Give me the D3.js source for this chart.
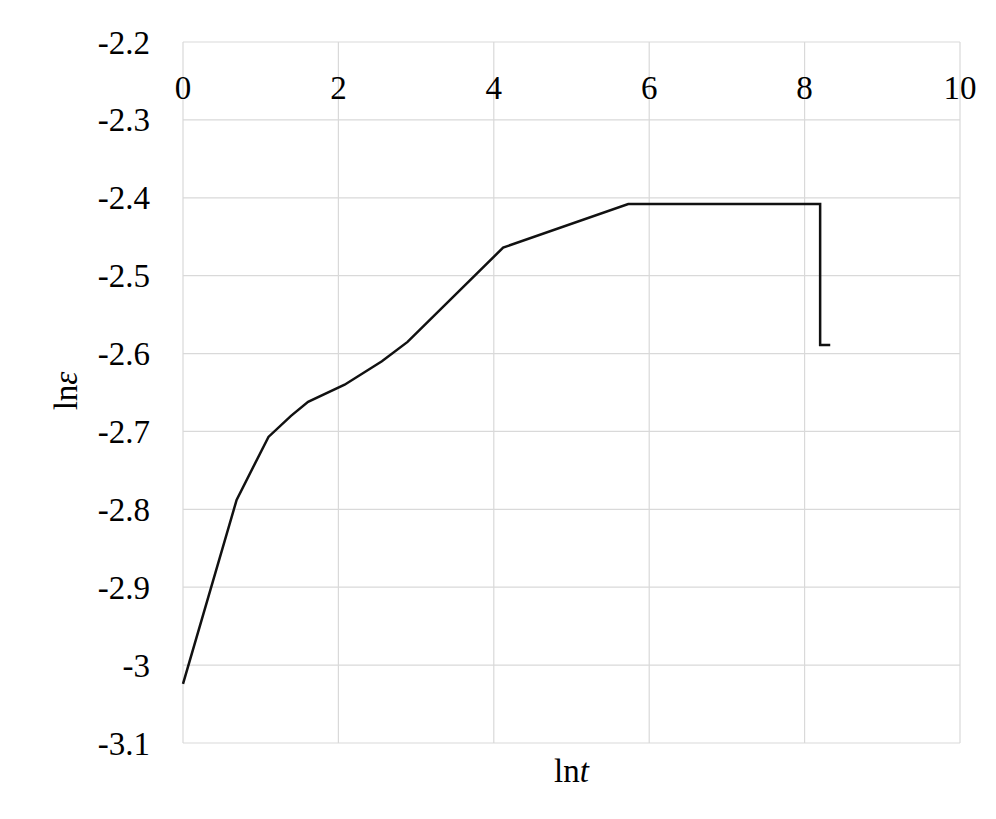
<!DOCTYPE html>
<html>
<head>
<meta charset="utf-8">
<script src="https://cdn.jsdelivr.net/npm/d3@7"></script>
<style>
  html, body { margin: 0; padding: 0; background: #fff; }
  text { font-family: "Liberation Serif", "Times New Roman", serif; fill: #000; }
</style>
</head>
<body>
<div id="chart"></div>
<script>
// ln t values and matching ln epsilon values
const lnT   = [0, 0.69, 1.10, 1.39, 1.61, 2.08, 2.56, 2.89, 4.12, 5.73, 8.20, 8.20, 8.33];
const lnEps = [-3.024, -2.788, -2.707, -2.680, -2.662, -2.640, -2.610, -2.585, -2.464, -2.408, -2.408, -2.589, -2.589];

const xTicks = [0, 2, 4, 6, 8, 10];
const yTicks = [-2.2, -2.3, -2.4, -2.5, -2.6, -2.7, -2.8, -2.9, -3, -3.1];

// set the dimensions and margins of the graph
var margin = {top: 42, right: 36, bottom: 76, left: 183};
var width = 996 - margin.left - margin.right;
var height = 819 - margin.top - margin.bottom;

var x = d3.scaleLinear().domain([0, 10]).range([0, width]);
var y = d3.scaleLinear().domain([-3.1, -2.2]).range([height, 0]);

var svg = d3.select('#chart').append('svg')
  .attr('width', 996)
  .attr('height', 819)
  .append('g')
  .attr('transform', 'translate(' + margin.left + ',' + margin.top + ')');

// grid lines
svg.append('g')
  .selectAll('line')
  .data(yTicks)
  .enter().append('line')
  .attr('x1', 0).attr('x2', width)
  .attr('y1', d => y(d)).attr('y2', d => y(d))
  .attr('stroke', '#d9d9d9')
  .attr('stroke-width', 1.2);

svg.append('g')
  .selectAll('line')
  .data(xTicks)
  .enter().append('line')
  .attr('x1', d => x(d)).attr('x2', d => x(d))
  .attr('y1', 0).attr('y2', height)
  .attr('stroke', '#d9d9d9')
  .attr('stroke-width', 1.2);

// x axis labels (sit just under the top line)
svg.append('g')
  .selectAll('text')
  .data(xTicks)
  .enter().append('text')
  .attr('x', d => x(d))
  .attr('y', 45)
  .attr('dy', '0.35em')
  .attr('text-anchor', 'middle')
  .style('font-size', '33px')
  .text(d => d);

// y axis labels, plain hyphen as in the picture
svg.append('g')
  .selectAll('text')
  .data(yTicks)
  .enter().append('text')
  .attr('x', -33)
  .attr('y', d => y(d))
  .attr('dy', '0.35em')
  .attr('text-anchor', 'end')
  .style('font-size', '33px')
  .text(d => String(d));

// the data line
svg.append('path')
  .datum(lnT.map((t, i) => ({t: t, e: lnEps[i]})))
  .attr('fill', 'none')
  .attr('stroke', '#111')
  .attr('stroke-width', 2.5)
  .attr('stroke-linejoin', 'miter')
  .attr('d', d3.line()
    .x(d => x(d.t))
    .y(d => y(d.e))
  );

// axis titles
var xt = svg.append('text')
  .attr('x', width / 2)
  .attr('y', height + 27)
  .attr('dy', '0.35em')
  .attr('text-anchor', 'middle')
  .style('font-size', '33px');
xt.append('tspan').text('ln');
xt.append('tspan').style('font-style', 'italic').text('t');

var yt = svg.append('text')
  .attr('transform', 'translate(' + (65 - margin.left) + ',' + (391 - margin.top) + ') rotate(-90)')
  .attr('dy', '0.35em')
  .attr('text-anchor', 'middle')
  .style('font-size', '33px');
yt.append('tspan').text('ln');
yt.append('tspan').style('font-style', 'italic').text('ε');
</script>
</body>
</html>
